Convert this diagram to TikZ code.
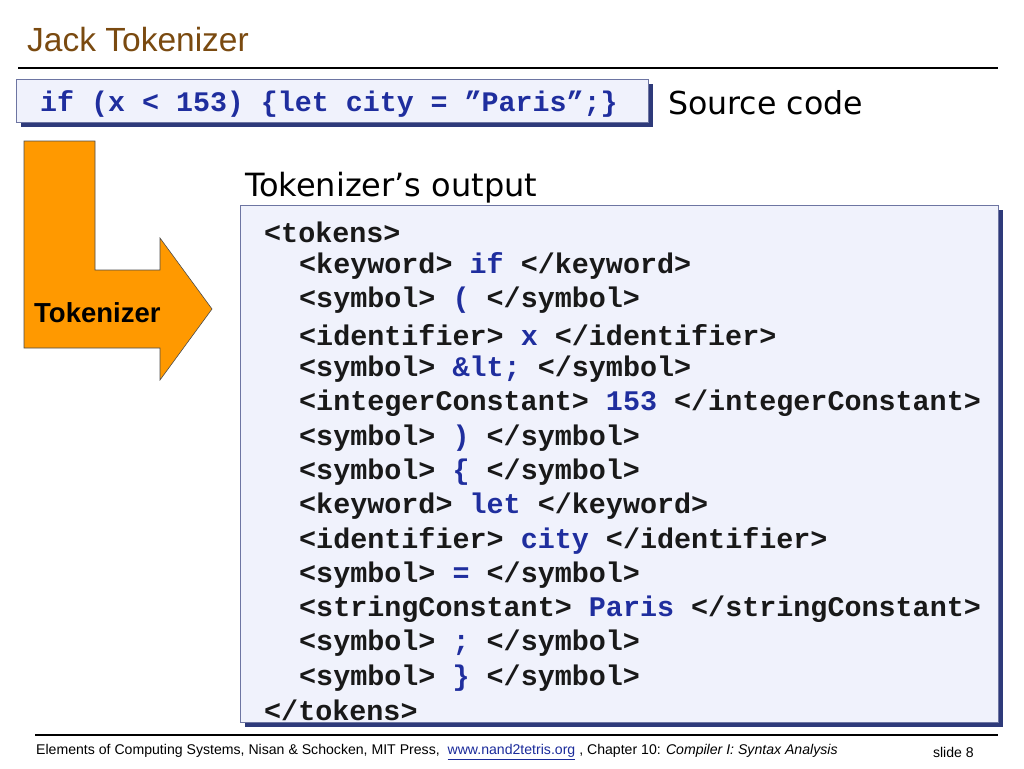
\documentclass[tikz,border=0pt]{standalone}
\usepackage{fontspec}
\setmainfont{Liberation Sans}
\newfontfamily\codefont{Liberation Mono}
\newfontfamily\handfont{DejaVu Sans}
\definecolor{titlebrown}{HTML}{7A4A10}
\definecolor{boxfill}{HTML}{F0F2FC}
\definecolor{shadowblue}{HTML}{2E3A7A}
\definecolor{tokblue}{HTML}{1F2E9E}
\definecolor{arroworange}{HTML}{FF9900}
\definecolor{linkblue}{HTML}{1A2A9A}
\tikzset{
  codebox/.style={draw=shadowblue!70, fill=boxfill, line width=0.8pt},
  shadowbox/.style={fill=shadowblue},
  codeline/.style={anchor=west, inner sep=0pt, font=\codefont\bfseries\fontsize{28.4}{30}\selectfont, text=black!90},
}
\newcommand{\tk}[1]{\textcolor{tokblue}{#1}}
\begin{document}
\begin{tikzpicture}[x=1pt,y=-1pt]
\useasboundingbox (0,0) rectangle (1024,768);
% title
\node[anchor=west, inner sep=0pt, text=titlebrown, font=\fontsize{33.5}{36}\selectfont] (title) at (27,40) {Jack Tokenizer};
\draw[line width=2.5pt] (18,68) -- (998,68);
% source code box
\fill[shadowbox] (21,84) rectangle (653,127);
\node[codebox, minimum width=632pt, minimum height=43pt, anchor=north west, inner sep=0pt] (src) at (16,79) {};
\node[anchor=west, inner sep=0pt, text=tokblue, font=\codefont\bfseries\fontsize{28.3}{30}\selectfont] (srctext) at (40,104) {if (x < 153) \{let city = ”Paris”;\}};
\node[anchor=west, inner sep=0pt, font=\handfont\fontsize{31.6}{34}\selectfont] (srclabel) at (668,103) {Source code};
% arrow
\draw[fill=arroworange, draw=black!70, line width=0.6pt] (24,141) -- (95,141) -- (95,270) -- (160,270) -- (160,238) -- (212,309) -- (160,380) -- (160,348) -- (24,348) -- cycle;
\node[anchor=west, inner sep=0pt, font=\bfseries\fontsize{27.5}{30}\selectfont] (tok) at (34,313) {Tokenizer};
% output
\node[anchor=west, inner sep=0pt, font=\handfont\fontsize{32}{34}\selectfont] (outlabel) at (245,188) {Tokenizer’s output};
\fill[shadowbox] (245,210) rectangle (1003,727);
\node[codebox, minimum width=758pt, minimum height=517pt, anchor=north west, inner sep=0pt] (out) at (240,205) {};
\node[codeline] (l0) at (264,232) {<tokens>};
\node[codeline] (l1) at (299,266.3) {<keyword> \tk{if} </keyword>};
\node[codeline] (l2) at (299,300.6) {<symbol> \tk{(} </symbol>};
\node[codeline] (l3) at (299,334.9) {<identifier> \tk{x} </identifier>};
\node[codeline] (l4) at (299,369.2) {<symbol> \tk{\&lt;} </symbol>};
\node[codeline] (l5) at (299,403.5) {<integerConstant> \tk{153} </integerConstant>};
\node[codeline] (l6) at (299,437.8) {<symbol> \tk{)} </symbol>};
\node[codeline] (l7) at (299,472.1) {<symbol> \tk{\{} </symbol>};
\node[codeline] (l8) at (299,506.4) {<keyword> \tk{let} </keyword>};
\node[codeline] (l9) at (299,540.7) {<identifier> \tk{city} </identifier>};
\node[codeline] (l10) at (299,575) {<symbol> \tk{=} </symbol>};
\node[codeline] (l11) at (299,609.3) {<stringConstant> \tk{Paris} </stringConstant>};
\node[codeline] (l12) at (299,643.6) {<symbol> \tk{;} </symbol>};
\node[codeline] (l13) at (299,677.9) {<symbol> \tk{\}} </symbol>};
\node[codeline] (l14) at (264,710) {</tokens>};
% footer
\draw[line width=1.2pt] (35,735) -- (998,735);
\node[anchor=west, inner sep=0pt, font=\fontsize{14.1}{16}\selectfont] (foot) at (36,752) {Elements of Computing Systems, Nisan \& Schocken, MIT Press,\ \ \textcolor{linkblue}{\underline{www.nand2tetris.org}} , Chapter 10: \textit{Compiler I: Syntax Analysis}};
\node[anchor=east, inner sep=0pt, font=\fontsize{14.1}{16}\selectfont] (slide) at (974,752) {slide 8};
\end{tikzpicture}
\end{document}
